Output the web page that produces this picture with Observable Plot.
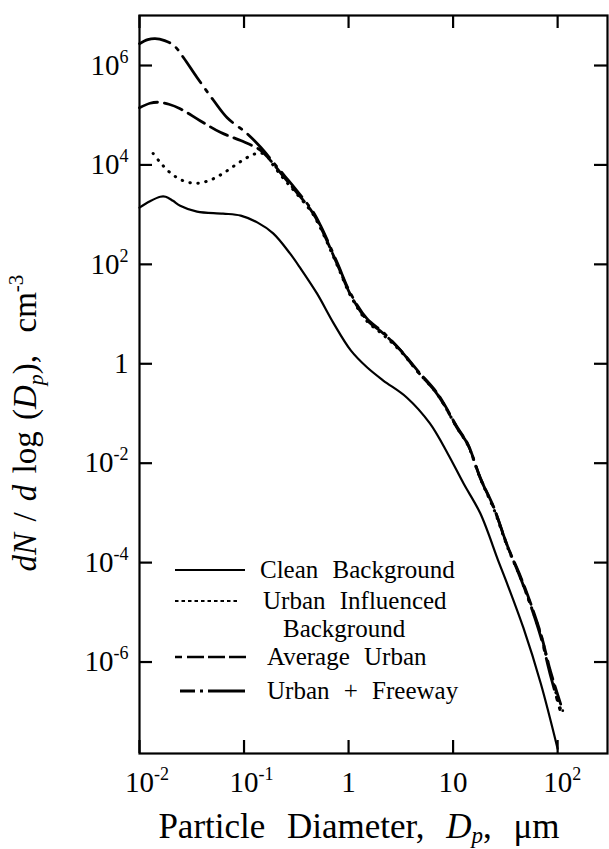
<!DOCTYPE html>
<html><head><meta charset="utf-8">
<script src="https://cdn.jsdelivr.net/npm/d3@7"></script>
<script src="https://cdn.jsdelivr.net/npm/@observablehq/plot@0.6"></script>
<style>
html,body{margin:0;padding:0;background:#fff;}
#chart{width:609px;height:849px;overflow:hidden;}
svg{font-family:"Liberation Serif","Times New Roman",serif;}
</style></head><body><div id="chart"></div>
<script>
// Series values (diameter in µm, dN/dlogDp in cm^-3)
const cleanD = [0.01, 0.0126, 0.0158, 0.0178, 0.0209, 0.0245, 0.0355, 0.063, 0.093, 0.135, 0.19, 0.275, 0.347, 0.50, 0.72, 1.05, 1.5, 2.15, 3.6, 6.0, 8.9, 12.6, 18.2, 27, 32, 47, 69, 100];
const cleanN = [1380, 1860, 2290, 2290, 1900, 1510, 1150, 1050, 955, 690, 420, 166, 83, 25.7, 6.5, 1.86, 0.85, 0.46, 0.21, 0.063, 0.0155, 0.0039, 0.00098, 1.1e-4, 4.4e-5, 4.9e-6, 3.7e-7, 1.8e-8];

const influencedD = [0.0135, 0.0158, 0.02, 0.0263, 0.0355, 0.048, 0.063, 0.083, 0.107, 0.126, 0.145, 0.166, 0.186, 0.24, 0.31, 0.45, 0.54, 0.78, 1.05, 1.5, 2.15, 3.15, 4.6, 7.1, 11, 13.8, 18.2, 24.5, 33, 43, 51, 69, 85, 107];
const influencedN = [17000, 11200, 6760, 4790, 4270, 5010, 6760, 10000, 14100, 16600, 17400, 15100, 10500, 5250, 2820, 1070, 530, 95, 22.9, 7.2, 3.8, 1.78, 0.69, 0.24, 0.050, 0.0234, 0.0049, 0.0012, 2.1e-4, 5.6e-5, 2.2e-5, 3.5e-6, 6.3e-7, 1.1e-7];

const urbanD = [0.01, 0.0126, 0.0151, 0.0191, 0.0245, 0.038, 0.060, 0.093, 0.145, 0.186, 0.24, 0.31, 0.45, 0.54, 0.78, 1.05, 1.5, 2.15, 3.15, 4.6, 7.1, 11, 13.8, 18.2, 24.5, 33, 43, 51, 69, 85, 112];
const urbanN = [141000, 174000, 182000, 166000, 135000, 77600, 44700, 30900, 19500, 11200, 5750, 3020, 1120, 562, 100, 24, 7.6, 4.07, 1.86, 0.72, 0.25, 0.052, 0.0245, 0.0051, 0.0013, 2.2e-4, 6.0e-5, 2.4e-5, 3.7e-6, 6.8e-7, 1.05e-7];

const freewayD = [0.01, 0.012, 0.0141, 0.0174, 0.0214, 0.0263, 0.0355, 0.051, 0.069, 0.107, 0.145, 0.186, 0.24, 0.31, 0.45, 0.54, 0.78, 1.05, 1.5, 2.15, 3.15, 4.6, 7.1, 11, 13.8, 18.2, 24.5, 33, 43, 51, 69, 85, 105];
const freewayN = [2750000, 3310000, 3470000, 3160000, 2510000, 1450000, 575000, 200000, 89000, 42700, 22400, 12000, 6310, 3310, 1200, 600, 107, 25.5, 8.1, 4.27, 1.86, 0.69, 0.24, 0.050, 0.024, 0.0050, 0.00126, 2.2e-4, 5.6e-5, 2.2e-5, 3.2e-6, 5.6e-7, 1.1e-7];

const xTickValues = [0.01, 0.1, 1, 10, 100];
const xTickLabels = ["10^-2", "10^-1", "1", "10", "10^2"];
const yTickValues = [1e-6, 1e-4, 1e-2, 1, 1e2, 1e4, 1e6];
const yTickLabels = ["10^-6", "10^-4", "10^-2", "1", "10^2", "10^4", "10^6"];

const legendNames = ["Clean Background", "Urban Influenced", "Background", "Average Urban", "Urban + Freeway"];

function rows(D, N) { return D.map((d, i) => ({d, n: N[i]})); }

const lineOpts = {x: "d", y: "n", stroke: "#000", curve: "catmull-rom", fill: "none"};
const TICK = 13, PLOT_W = 609 - 139 - 2, PLOT_H = 849 - 15 - 96;

const plot = Plot.plot({
  width: 609, height: 849,
  marginLeft: 139, marginRight: 2, marginTop: 15, marginBottom: 96,
  style: {fontFamily: '"Liberation Serif", "Times New Roman", serif', color: "#000", background: "#fff"},
  x: {type: "log", domain: [0.01, 300]},
  y: {type: "log", domain: [Math.pow(10, -7.84), Math.pow(10, 7.006)]},
  marks: [
    Plot.line(rows(cleanD, cleanN), {...lineOpts, strokeWidth: 2.2}),
    Plot.line(rows(influencedD, influencedN), {...lineOpts, strokeWidth: 3, strokeDasharray: "0.5 7.5", strokeLinecap: "round"}),
    Plot.line(rows(urbanD, urbanN), {...lineOpts, strokeWidth: 2.8, strokeDasharray: "19 7"}),
    Plot.line(rows(freewayD, freewayN), {...lineOpts, strokeWidth: 2.8, strokeDasharray: "32 8 3 8"}),
    // inward ticks on all four sides
    Plot.ruleX(xTickValues, {x: d => d, insetTop: PLOT_H - TICK, stroke: "#000", strokeWidth: 2.2}),
    Plot.ruleX(xTickValues, {x: d => d, insetBottom: PLOT_H - TICK, stroke: "#000", strokeWidth: 2.2}),
    Plot.ruleY(yTickValues, {y: d => d, insetRight: PLOT_W - TICK, stroke: "#000", strokeWidth: 2.2}),
    Plot.ruleY(yTickValues, {y: d => d, insetLeft: PLOT_W - TICK, stroke: "#000", strokeWidth: 2.2}),
    Plot.frame({stroke: "#000", strokeWidth: 2.2}),
    Plot.axisX({anchor: "bottom", ticks: xTickValues, tickSize: 0, tickPadding: 18, fontSize: 29, label: null,
      tickFormat: d => xTickLabels[xTickValues.indexOf(d)]}),
    Plot.axisY({anchor: "left", ticks: yTickValues, tickSize: 0, tickPadding: 11, fontSize: 29, label: null,
      tickFormat: d => yTickLabels[yTickValues.indexOf(d)]})
  ]
});

document.getElementById("chart").appendChild(plot);
const svg = d3.select(plot);

// superscripts on tick labels
function supify(sel, centerBase) {
  sel.each(function() {
    const t = this.textContent;
    if (!t.includes("^")) return;
    const [base, exp] = t.split("^");
    this.textContent = "";
    const b = d3.select(this).append("tspan").text(base);
    const e = d3.select(this).append("tspan").attr("dy", "-12").attr("font-size", "18px").text(exp);
    if (centerBase) {
      const ew = e.node().getComputedTextLength();
      b.attr("dx", ew / 2);
    }
  });
}
supify(svg.selectAll('g[aria-label="x-axis tick label"] text'), true);
supify(svg.selectAll('g[aria-label="y-axis tick label"] text'), false);

// axis titles
const yl = svg.append("text")
  .attr("transform", "translate(36,423) rotate(-90)")
  .attr("text-anchor", "middle").attr("font-size", "33px").attr("fill", "#000")
  .style("word-spacing", "3px");
yl.append("tspan").attr("font-style", "italic").text("dN");
yl.append("tspan").text(" / ");
yl.append("tspan").attr("font-style", "italic").text("d");
yl.append("tspan").text(" log (");
yl.append("tspan").attr("font-style", "italic").text("D");
yl.append("tspan").attr("font-style", "italic").attr("font-size", "22px").attr("dy", 7).text("p");
yl.append("tspan").attr("dy", -7).text("),\u00a0 cm");
yl.append("tspan").attr("font-size", "21px").attr("dy", -13).text("-3");

const xl = svg.append("text")
  .attr("x", 359).attr("y", 838)
  .attr("text-anchor", "middle").attr("font-size", "35px").attr("fill", "#000")
  .style("word-spacing", "13px");
xl.append("tspan").text("Particle Diameter, ");
xl.append("tspan").attr("font-style", "italic").text("D");
xl.append("tspan").attr("font-style", "italic").attr("font-size", "23px").attr("dy", 5).text("p");
xl.append("tspan").attr("dy", -5).text(", \u03bcm");

// legend
const lg = svg.append("g").attr("fill", "none").attr("stroke", "#000");
const legendRows = [
  {y: 570, x1: 175, x2: 245, dash: null, w: 2.2, tx: 260, ty: 578, label: legendNames[0]},
  {y: 601, x1: 175, x2: 237, dash: "3.5 3", w: 2, tx: 263, ty: 609, label: legendNames[1]},
  {y: null, tx: 283, ty: 637, label: legendNames[2]},
  {y: 657, x1: 175, x2: 247, dash: "7 5 17 4 17 4 17", w: 2.6, tx: 267, ty: 665, label: legendNames[3]},
  {y: 691, x1: 180, x2: 245, dash: "15 5 3 5 40", w: 3, tx: 267, ty: 699, label: legendNames[4]}
];
legendRows.forEach(r => {
  if (r.y !== null) {
    lg.append("line").attr("x1", r.x1).attr("x2", r.x2).attr("y1", r.y).attr("y2", r.y)
      .attr("stroke-width", r.w).attr("stroke-dasharray", r.dash);
  }
  svg.append("text").attr("x", r.tx).attr("y", r.ty).attr("font-size", "25px").attr("fill", "#000")
    .attr("text-anchor", "start").style("word-spacing", "8px").text(r.label);
});
</script>
</body></html>
